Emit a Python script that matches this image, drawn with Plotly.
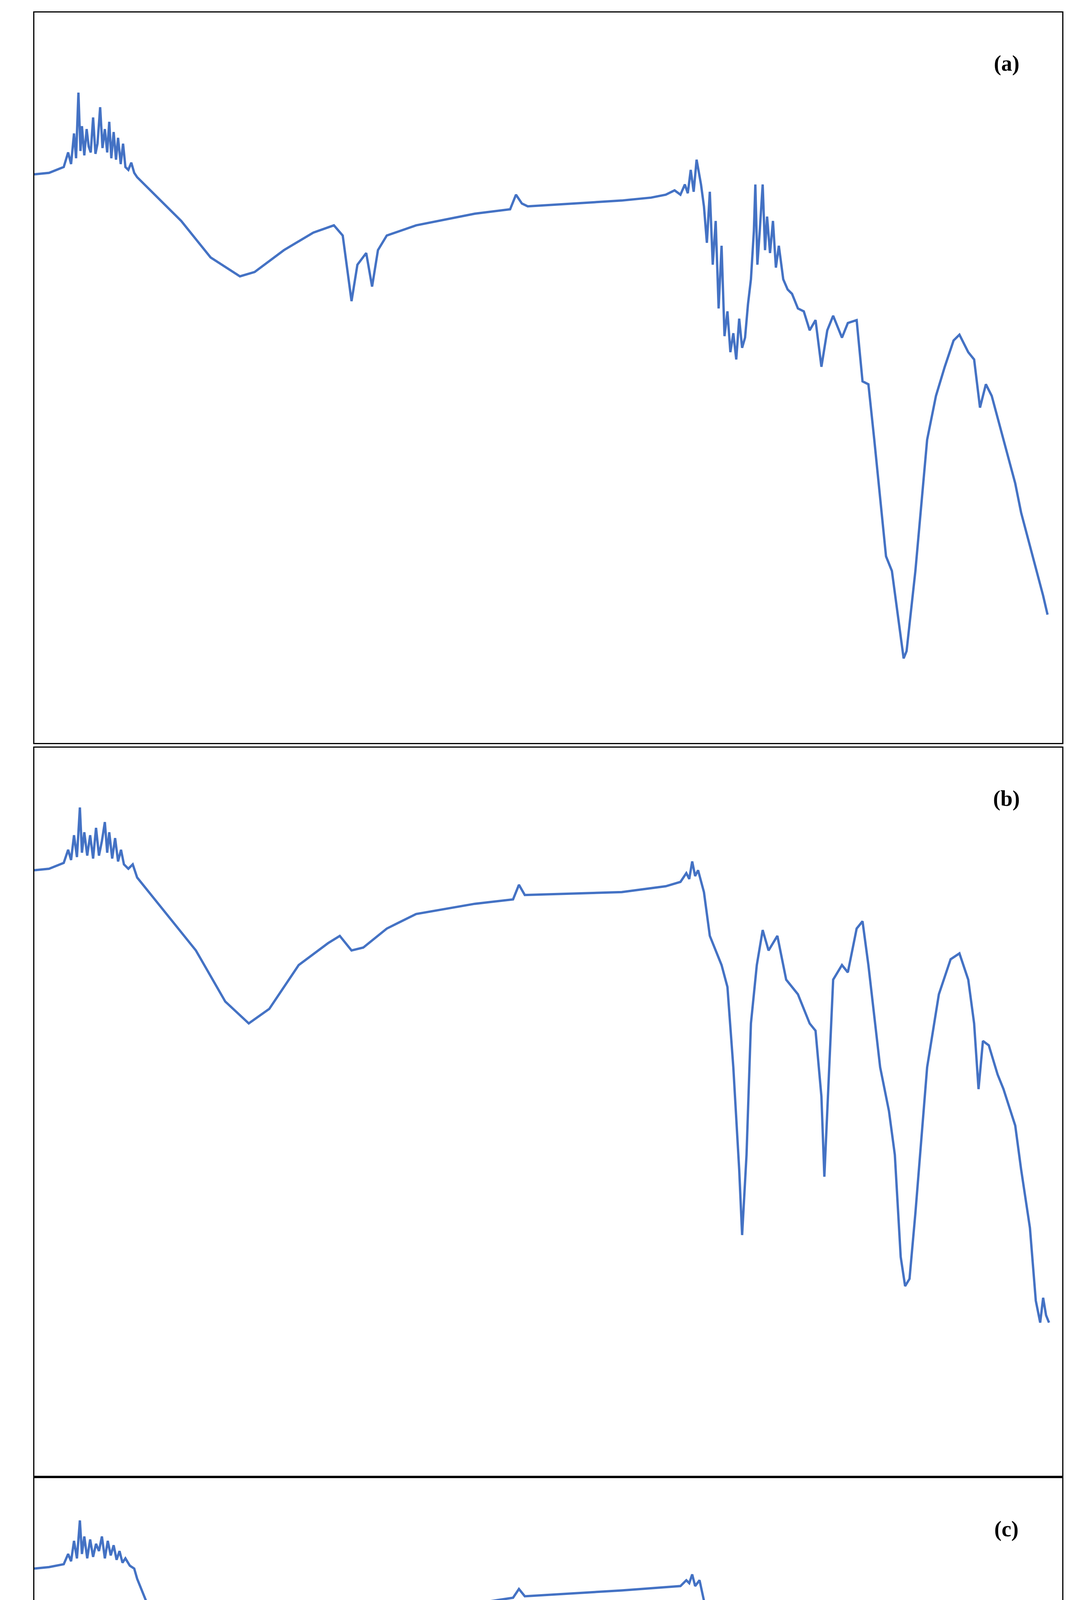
import plotly.graph_objects as go
from plotly.subplots import make_subplots

# wavenumber (cm-1) and relative depth below panel top (larger = lower transmittance)
wn_a = [4000, 3950, 3900, 3885, 3875, 3865, 3858, 3850, 3843, 3838, 3830, 3822, 3815, 3808, 3800, 3792,
        3785, 3776, 3768, 3760, 3752, 3745, 3738, 3730, 3722, 3715, 3706, 3698, 3690, 3680, 3670, 3660,
        3650, 3600, 3500, 3400, 3300, 3250, 3150, 3050, 2980, 2950, 2920, 2900, 2870, 2850, 2830, 2800,
        2700, 2500, 2380, 2360, 2340, 2320, 2000, 1900, 1850, 1820, 1800, 1785, 1775, 1765, 1755, 1745,
        1730, 1720, 1710, 1700, 1690, 1680, 1670, 1660, 1650, 1640, 1630, 1620, 1610, 1600, 1590, 1580,
        1570, 1560, 1550, 1545, 1538, 1530, 1520, 1512, 1505, 1495, 1485, 1475, 1465, 1450, 1435, 1420,
        1400, 1380, 1360, 1340, 1320, 1300, 1280, 1250, 1230, 1200, 1180, 1160, 1140, 1100, 1080, 1060,
        1040, 1030, 1000, 960, 930, 900, 870, 850, 820, 800, 780, 760, 740, 700, 660, 640, 600, 585,
        575, 565, 550]
d_a = [111, 110, 106, 96, 104, 83, 100, 55, 95, 78, 98, 80, 92, 96, 72, 97,
       90, 65, 93, 80, 96, 75, 100, 82, 101, 86, 104, 90, 106, 108, 103, 110,
       113, 123, 143, 168, 181, 178, 163, 151, 146, 153, 198, 173, 165, 188, 163, 153,
       146, 138, 135, 125, 131, 133, 129, 127, 125, 122, 125, 118, 124, 108, 123, 101,
       118, 133, 158, 123, 173, 143, 203, 160, 222, 205, 233, 220, 238, 210, 230, 223,
       200, 183, 150, 118, 173, 150, 118, 163, 140, 165, 143, 175, 160, 183, 190, 193,
       203, 205, 218, 211, 243, 218, 208, 223, 213, 211, 253, 255, 293, 373, 383, 413,
       443, 438, 383, 293, 263, 243, 225, 221, 233, 238, 271, 255, 263, 293, 323, 343, 373, 385,
       393, 400, 413]

wn_b = [4000, 3950, 3900, 3885, 3875, 3865, 3855, 3845, 3838, 3830, 3820, 3810, 3800, 3790, 3780,
        3770, 3760, 3752, 3745, 3735, 3725, 3715, 3705, 3695, 3680, 3665, 3650, 3550, 3450, 3350,
        3270, 3200, 3100, 3000, 2960, 2920, 2880, 2800, 2700, 2500, 2370, 2350, 2330, 2000, 1850,
        1800, 1780, 1770, 1760, 1750, 1740, 1720, 1700, 1660, 1640, 1620, 1600, 1590, 1575, 1560,
        1540, 1520, 1500, 1470, 1440, 1400, 1360, 1340, 1320, 1310, 1300, 1280, 1250, 1230, 1200,
        1180, 1160, 1120, 1090, 1070, 1050, 1035, 1020, 1000, 960, 920, 880, 850, 820, 800, 785,
        770, 750, 720, 700, 660, 640, 610, 590, 575, 565, 555, 545]
d_b = [84, 83, 79, 70, 77, 60, 75, 41, 72, 58, 74, 60, 76, 55, 74,
       64, 51, 72, 58, 76, 62, 78, 70, 80, 83, 80, 89, 114, 139, 174,
       189, 179, 149, 134, 129, 139, 137, 124, 114, 107, 104, 94, 101, 99, 95,
       92, 86, 90, 78, 88, 84, 99, 129, 149, 164, 219, 289, 334, 279, 189,
       149, 125, 139, 129, 159, 169, 189, 194, 239, 294, 249, 159, 149, 154, 124,
       119, 149, 219, 249, 279, 349, 369, 364, 319, 219, 169, 145, 141, 159, 189, 234,
       201, 204, 224, 234, 259, 289, 329, 379, 394, 377, 389, 394]

wn_c = [4000, 3950, 3900, 3885, 3875, 3865, 3855, 3845, 3838, 3830, 3820, 3810, 3800, 3790, 3780,
        3770, 3760, 3750, 3740, 3730, 3720, 3710, 3700, 3690, 3675, 3660, 3650, 3600, 3500, 3400,
        3330, 3270, 3200, 3100, 3000, 2960, 2920, 2880, 2820, 2700, 2500, 2370, 2350, 2330, 2000,
        1800, 1780, 1770, 1760, 1750, 1735, 1720, 1700, 1680, 1650, 1620, 1600, 1580, 1540, 1520,
        1500, 1480, 1440, 1400, 1360, 1330, 1310, 1280, 1250, 1230, 1200, 1180, 1150, 1120, 1090,
        1070, 1050, 1030, 1010, 990, 960, 930, 900, 860, 820, 800, 780, 760, 730, 700, 660, 620,
        590, 570, 555]
d_c = [62, 61, 59, 52, 57, 43, 55, 29, 52, 40, 55, 42, 54, 45, 50,
       40, 55, 43, 53, 46, 56, 50, 58, 55, 60, 62, 69, 94, 139, 184,
       204, 209, 199, 154, 124, 129, 141, 119, 107, 94, 86, 82, 76, 81, 77,
       74, 70, 72, 66, 74, 70, 84, 99, 124, 139, 154, 149, 129, 99, 94,
       109, 124, 129, 139, 154, 169, 154, 139, 149, 139, 119, 124, 169, 209, 249,
       289, 339, 351, 349, 319, 249, 204, 179, 169, 174, 199, 214, 207, 219, 249, 279, 309,
       339, 359, 369]

labels = ['(a)', '(b)', '(c)']
heights = [501, 499, 509]
domains = [(0.682, 0.996), (0.367, 0.680), (0.047, 0.366)]

W, H = 2786, 5956
fig = make_subplots(rows=3, cols=1, shared_xaxes=True, vertical_spacing=0.005)

for i, (wn, d) in enumerate([(wn_a, d_a), (wn_b, d_b), (wn_c, d_c)]):
    fig.add_trace(go.Scatter(x=wn, y=d, mode='lines', line=dict(color='#4472C4', width=6),
                             showlegend=False), row=i + 1, col=1)
    fig.add_annotation(x=690, y=35, text='<b>' + labels[i] + '</b>', showarrow=False,
                       font=dict(family='Liberation Serif', size=56, color='black'),
                       row=i + 1, col=1)
    fig.update_yaxes(range=[heights[i], 0], domain=domains[i], showticklabels=False,
                     showgrid=False, zeroline=False, showline=True, mirror=True,
                     linecolor='black', linewidth=3, row=i + 1, col=1)
    fig.update_xaxes(range=[4000, 500], showgrid=False, zeroline=False, showline=True,
                     mirror=True, linecolor='black', linewidth=3, ticks='',
                     row=i + 1, col=1)

fig.update_xaxes(tickvals=[4000, 3500, 3000, 2500, 2000, 1500, 1000, 500], showticklabels=True,
                 tickfont=dict(family='Liberation Sans Narrow, Liberation Sans', size=52, color='#595959'),
                 linewidth=6, row=3, col=1)

fig.add_annotation(x=0.5, y=0.01, xref='paper', yref='paper', showarrow=False,
                   text='<b>Wavenumber (cm\u22121)</b>',
                   font=dict(family='Liberation Serif', size=70, color='black'))

fig.update_layout(width=W, height=H, plot_bgcolor='white', paper_bgcolor='white',
                  margin=dict(l=80, r=74, t=0, b=0))

fig.write_html("out.html")
